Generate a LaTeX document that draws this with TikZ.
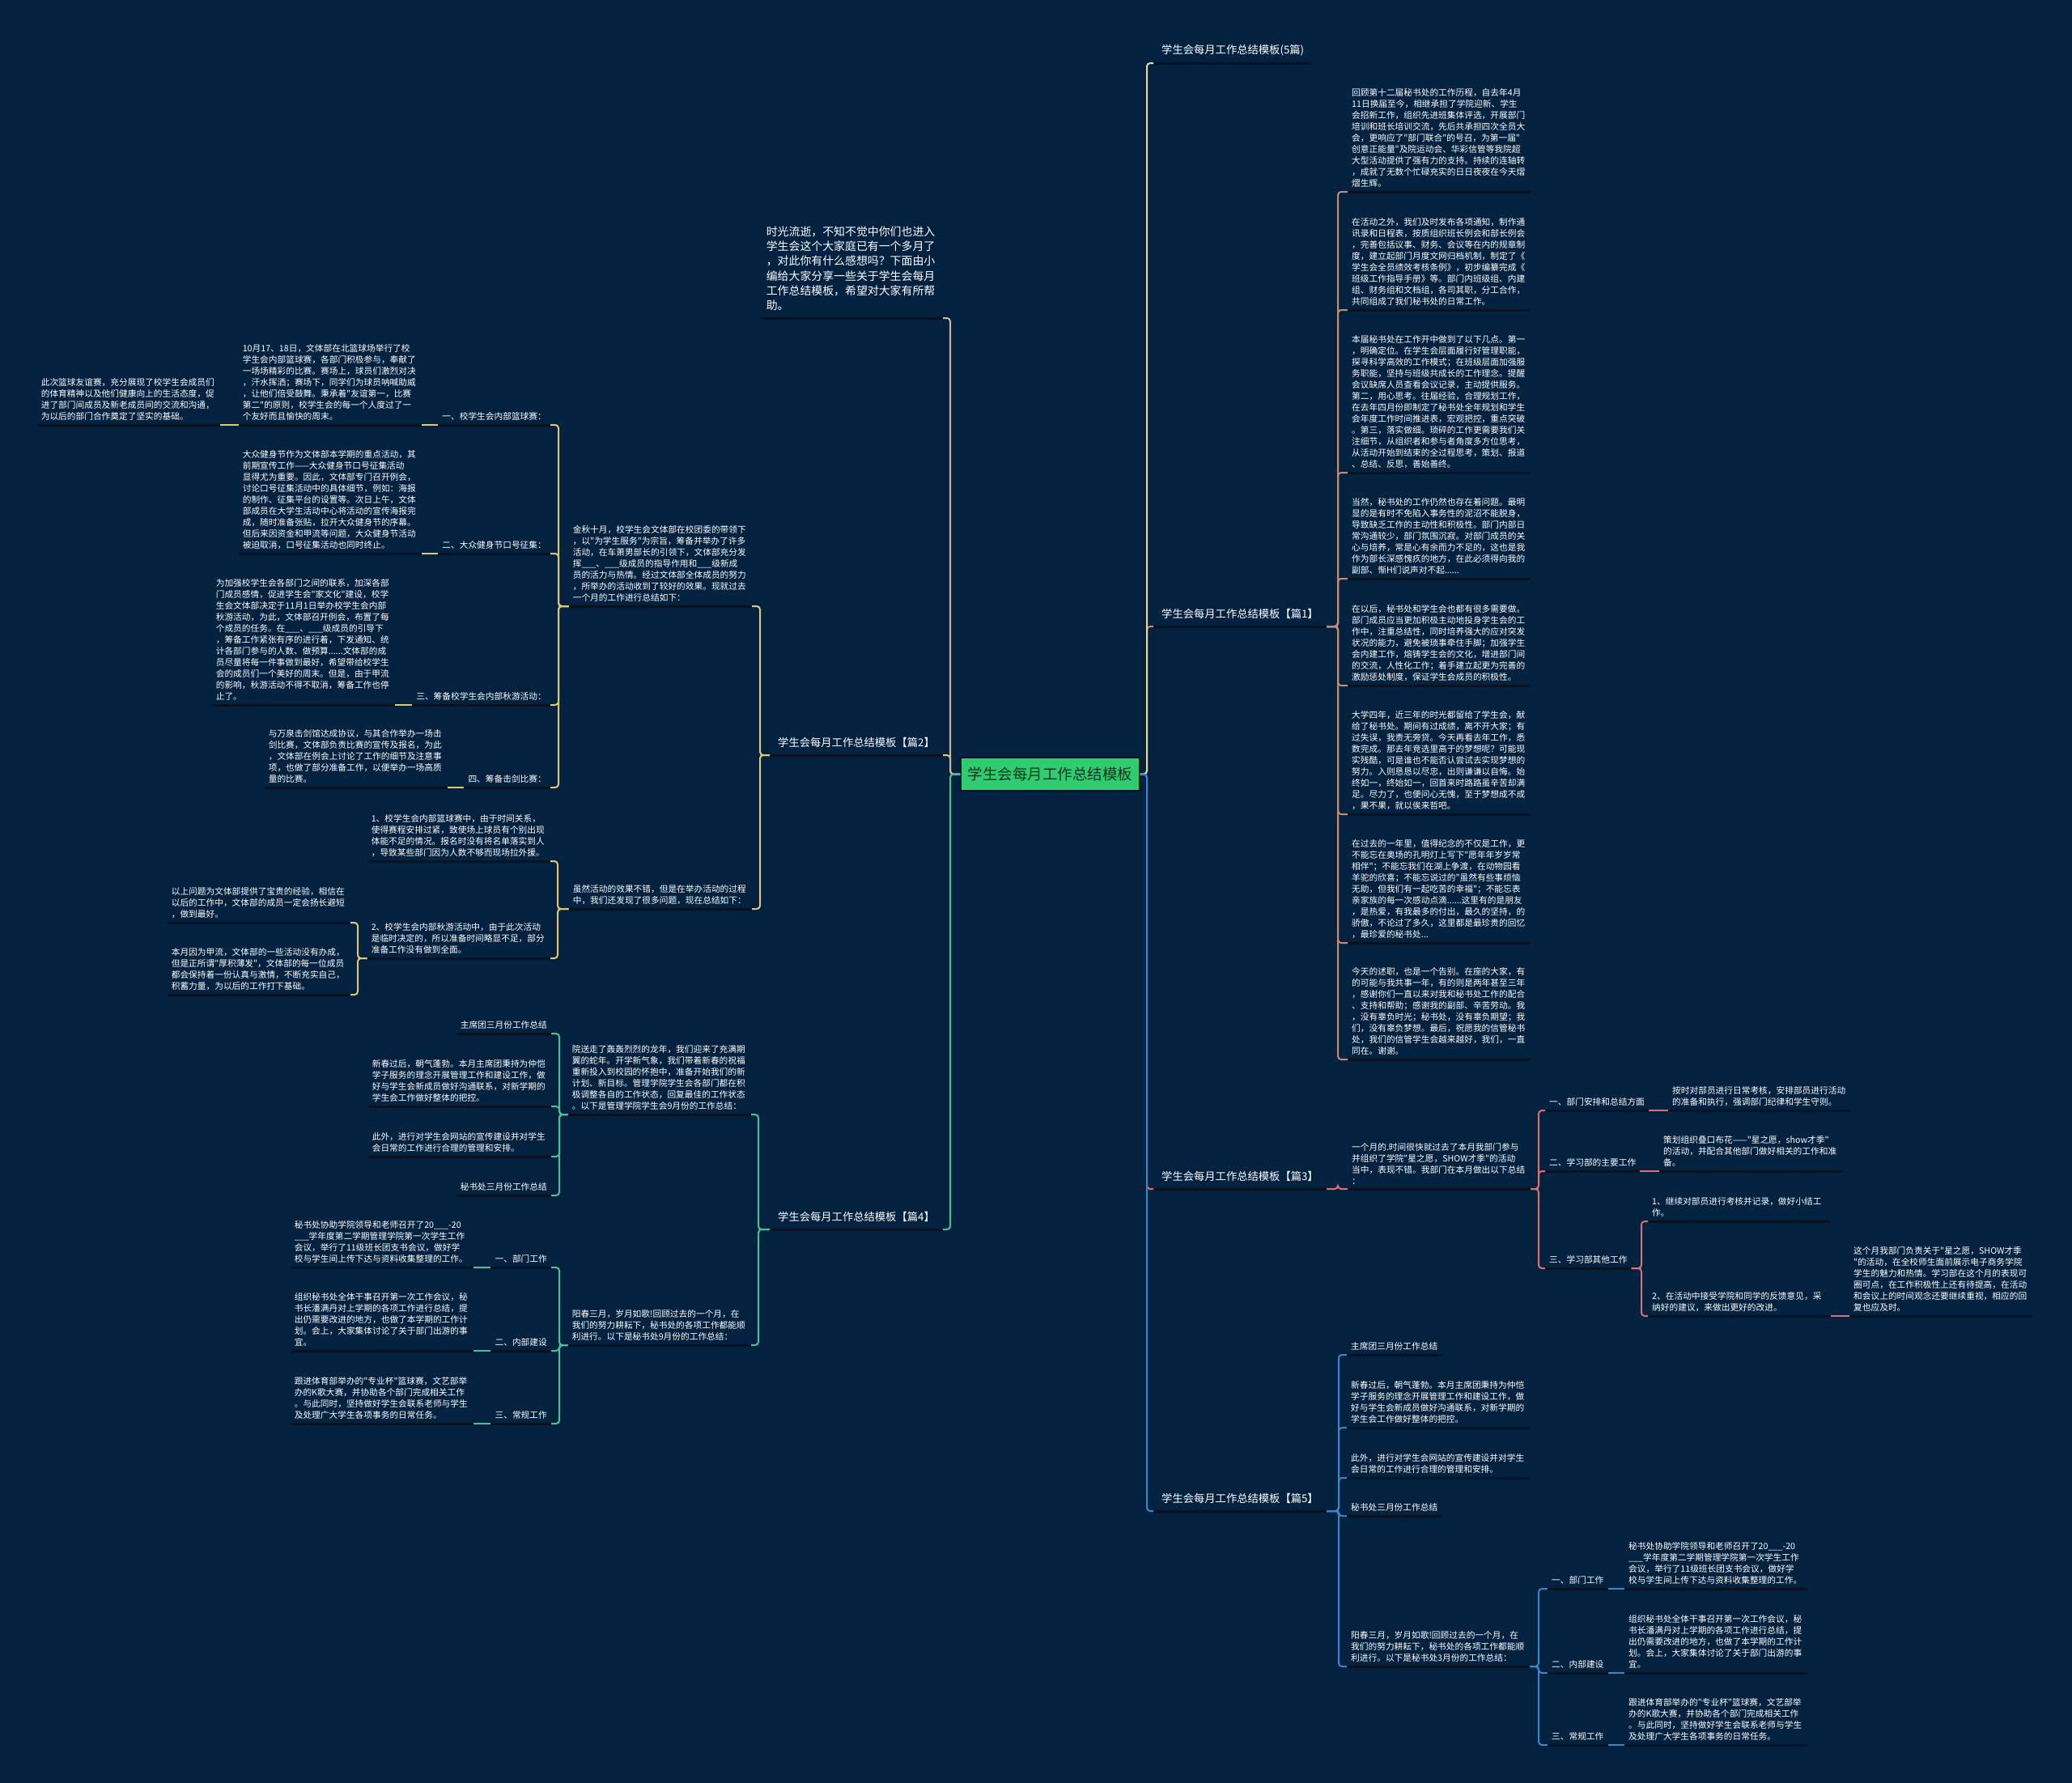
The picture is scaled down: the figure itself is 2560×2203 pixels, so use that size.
\documentclass[tikz,border=0pt]{standalone}
\usepackage{fontspec}
\setmainfont{Noto Sans CJK SC}[Ligatures=TeXOff]
\definecolor{bg}{RGB}{3,34,64}
\definecolor{uln}{RGB}{8,18,32}
\definecolor{rootfill}{RGB}{48,204,112}
\definecolor{roottext}{RGB}{18,48,32}
\definecolor{czero}{RGB}{228,218,150}
\definecolor{cone}{RGB}{196,140,112}
\definecolor{cthree}{RGB}{218,112,116}
\definecolor{cfive}{RGB}{62,132,204}
\definecolor{ctwo}{RGB}{222,200,120}
\definecolor{cintro}{RGB}{205,184,150}
\definecolor{cfour}{RGB}{78,190,150}
\newcommand\fntS{\fontsize{10.7}{14}\selectfont\exhyphenpenalty=10000 \hyphenpenalty=10000 }
\newcommand\fntM{\fontsize{13.3}{16}\selectfont}
\newcommand\fntI{\fontsize{13.9}{18.3}\selectfont}
\newcommand\fntR{\fontsize{18.5}{22}\selectfont}
\tikzset{
  base/.style={text=white, inner xsep=5pt, inner ysep=5.5pt, font=\fntS},
  para/.style={base, text width=216pt, align=left},
  lbl/.style={base},
  mainlbl/.style={text=white, inner xsep=10pt, inner ysep=9pt, font=\fntM},
  rootbox/.style={fill=rootfill, draw=uln, line width=1.2pt, text=roottext, font=\fntR,
    minimum width=221pt, minimum height=41pt, inner sep=0pt},
  uline/.style={draw=uln, line width=3pt},
  conn/.style={line width=2pt, rounded corners=4pt},
}
\begin{document}
\begin{tikzpicture}[x=1pt,y=-1pt]
\fill[bg] (0,0) rectangle (2560,2203);
\useasboundingbox (0,0) rectangle (2560,2203);

% root
\node[rootbox] (root) at (1297.5,956.5) {学生会每月工作总结模板};

% ---------- right main branches ----------
\node[mainlbl, anchor=south west] (r0) at (1425,78) {学生会每月工作总结模板(5篇)};
\node[mainlbl, anchor=south west] (r1) at (1425,774) {学生会每月工作总结模板【篇1】};
\node[mainlbl, anchor=south west] (r3) at (1425,1469) {学生会每月工作总结模板【篇3】};
\node[mainlbl, anchor=south west] (r5) at (1425,1867) {学生会每月工作总结模板【篇5】};

% ---------- left main branches ----------
\node[para, font=\fntI, text width=210pt, inner xsep=8pt, inner ysep=9pt, anchor=south east] (intro) at (1165,393) {时光流逝，不知不觉中你们也进入\\学生会这个大家庭已有一个多月了\\，对此你有什么感想吗？下面由小\\编给大家分享一些关于学生会每月\\工作总结模板，希望对大家有所帮\\助。};
\node[mainlbl, anchor=south east] (l2) at (1165,933) {学生会每月工作总结模板【篇2】};
\node[mainlbl, anchor=south east] (l4) at (1165,1519) {学生会每月工作总结模板【篇4】};

% ---------- 篇1 ----------
\node[para, anchor=south west] (p1) at (1665,237) {回顾第十二届秘书处的工作历程，自去年4月\\11日换届至今，相继承担了学院迎新、学生\\会招新工作，组织先进班集体评选，开展部门\\培训和班长培训交流，先后共承担四次全员大\\会，更响应了"部门联合"的号召，为第一届"\\创意正能量"及院运动会、华彩信管等我院超\\大型活动提供了强有力的支持。持续的连轴转\\，成就了无数个忙碌充实的日日夜夜在今天熠\\熠生辉。};
\node[para, anchor=south west] (p2) at (1665,383) {在活动之外，我们及时发布各项通知，制作通\\讯录和日程表，按质组织班长例会和部长例会\\，完善包括议事、财务、会议等在内的规章制\\度，建立起部门月度文网归档机制，制定了《\\学生会全员绩效考核条例》，初步编纂完成《\\班级工作指导手册》等。部门内班级组、内建\\组、财务组和文档组，各司其职，分工合作，\\共同组成了我们秘书处的日常工作。};
\node[para, anchor=south west] (p3) at (1665,584) {本届秘书处在工作开中做到了以下几点。第一\\，明确定位。在学生会层面履行好管理职能，\\探寻科学高效的工作模式；在班级层面加强服\\务职能，坚持与班级共成长的工作理念。提醒\\会议缺席人员查看会议记录，主动提供服务。\\第二，用心思考。往届经验，合理规划工作，\\在去年四月份即制定了秘书处全年规划和学生\\会年度工作时间推进表，宏观把控，重点突破\\。第三，落实做细。琐碎的工作更需要我们关\\注细节，从组织者和参与者角度多方位思考，\\从活动开始到结束的全过程思考，策划、报道\\、总结、反思，善始善终。};
\node[para, anchor=south west] (p4) at (1665,715) {当然，秘书处的工作仍然也存在着问题。最明\\显的是有时不免陷入事务性的泥沼不能脱身，\\导致缺乏工作的主动性和积极性。部门内部日\\常沟通较少，部门氛围沉寂。对部门成员的关\\心与培养，常是心有余而力不足的，这也是我\\作为部长深感愧疚的地方，在此必须得向我的\\副部、惭H们说声对不起......};
\node[para, anchor=south west] (p5) at (1665,847) {在以后，秘书处和学生会也都有很多需要做。\\部门成员应当更加积极主动地投身学生会的工\\作中，注重总结性，同时培养强大的应对突发\\状况的能力，避免被琐事牵住手脚；加强学生\\会内建工作，熔铸学生会的文化，增进部门间\\的交流，人性化工作；着手建立起更为完善的\\激励惩处制度，保证学生会成员的积极性。};
\node[para, anchor=south west] (p6) at (1665,1006) {大学四年，近三年的时光都留给了学生会，献\\给了秘书处。期间有过成绩，离不开大家；有\\过失误，我责无旁贷。今天再看去年工作，悉\\数完成。那去年竞选里高于的梦想呢？可能现\\实残酷，可是谁也不能否认尝试去实现梦想的\\努力。入则恳恳以尽忠，出则谦谦以自悔。始\\终如一，终始如一，回首来时路路虽辛苦却满\\足。尽力了，也便问心无愧，至于梦想成不成\\，果不果，就以俟来哲吧。};
\node[para, anchor=south west] (p7) at (1665,1165) {在过去的一年里，值得纪念的不仅是工作，更\\不能忘在奥场的孔明灯上写下"愿年年岁岁常\\相伴"；不能忘我们在湖上争渡，在动物园看\\羊驼的欣喜；不能忘说过的"虽然有些事烦恼\\无助，但我们有一起吃苦的幸福"；不能忘表\\亲家族的每一次感动点滴......这里有的是朋友\\，是热爱，有我最多的付出，最久的坚持，的\\骄傲，不论过了多久，这里都是最珍贵的回忆\\，最珍爱的秘书处...};
\node[para, anchor=south west] (p8) at (1665,1309) {今天的述职，也是一个告别。在座的大家，有\\的可能与我共事一年，有的则是两年甚至三年\\，感谢你们一直以来对我和秘书处工作的配合\\、支持和帮助；感谢我的副部、辛苦劳动。我\\，没有辜负时光；秘书处，没有辜负期望；我\\们，没有辜负梦想。最后，祝愿我的信管秘书\\处，我们的信管学生会越来越好，我们，一直\\同在。谢谢。};

% ---------- 篇3 ----------
\node[para, anchor=south west] (f) at (1665,1469) {一个月的.时间很快就过去了本月我部门参与\\并组织了学院"星之愿，SHOW才季"的活动\\当中，表现不错。我部门在本月做出以下总结\\：};
\node[lbl, anchor=south west] (f1) at (1909,1372) {一、部门安排和总结方面};
\node[lbl, anchor=south west] (f2) at (1909,1447) {二、学习部的主要工作};
\node[lbl, anchor=south west] (f3) at (1909,1567) {三、学习部其他工作};
\node[para, anchor=south west] (f1a) at (2061,1372) {按时对部员进行日常考核，安排部员进行活动\\的准备和执行，强调部门纪律和学生守则。};
\node[para, anchor=south west] (f2a) at (2050,1447) {策划组织叠口布花——"星之愿，show才季"\\的活动，并配合其他部门做好相关的工作和准\\备。};
\node[para, anchor=south west] (f3a) at (2036,1509) {1、继续对部员进行考核并记录，做好小结工\\作。};
\node[para, anchor=south west] (f3b) at (2036,1626) {2、在活动中接受学院和同学的反馈意见，采\\纳好的建议，来做出更好的改进。};
\node[para, anchor=south west] (f3c) at (2285,1626) {这个月我部门负责关于"星之愿，SHOW才季\\"的活动，在全校师生面前展示电子商务学院\\学生的魅力和热情。学习部在这个月的表现可\\圈可点，在工作积极性上还有待提高，在活动\\和会议上的时间观念还要继续重视，相应的回\\复也应及时。};

% ---------- 篇5 ----------
\node[lbl, anchor=south west] (e1) at (1664,1674) {主席团三月份工作总结};
\node[para, anchor=south west] (e2) at (1664,1764) {新春过后，朝气蓬勃。本月主席团秉持为仲恺\\学子服务的理念开展管理工作和建设工作，做\\好与学生会新成员做好沟通联系，对新学期的\\学生会工作做好整体的把控。};
\node[para, anchor=south west] (e3) at (1664,1826) {此外，进行对学生会网站的宣传建设并对学生\\会日常的工作进行合理的管理和安排。};
\node[lbl, anchor=south west] (e4) at (1664,1873) {秘书处三月份工作总结};
\node[para, anchor=south west] (e5) at (1664,2059) {阳春三月，岁月如歌!回顾过去的一个月，在\\我们的努力耕耘下，秘书处的各项工作都能顺\\利进行。以下是秘书处3月份的工作总结：};
\node[lbl, anchor=south west] (e5a) at (1912,1963) {一、部门工作};
\node[lbl, anchor=south west] (e5b) at (1912,2067) {二、内部建设};
\node[lbl, anchor=south west] (e5c) at (1912,2156) {三、常规工作};
\node[para, anchor=south west] (e5aa) at (2007,1963) {秘书处协助学院领导和老师召开了20\_\_\_-20\\\_\_\_学年度第二学期管理学院第一次学生工作\\会议，举行了11级班长团支书会议，做好学\\校与学生间上传下达与资料收集整理的工作。};
\node[para, anchor=south west] (e5ba) at (2007,2067) {组织秘书处全体干事召开第一次工作会议，秘\\书长潘满丹对上学期的各项工作进行总结，提\\出仍需要改进的地方，也做了本学期的工作计\\划。会上，大家集体讨论了关于部门出游的事\\宜。};
\node[para, anchor=south west] (e5ca) at (2007,2156) {跟进体育部举办的"专业杯"篮球赛，文艺部举\\办的K歌大赛，并协助各个部门完成相关工作\\。与此同时，坚持做好学生会联系老师与学生\\及处理广大学生各项事务的日常任务。};

% ---------- 篇2 ----------
\node[para, anchor=south east] (a) at (929,749) {金秋十月，校学生会文体部在校团委的带领下\\，以"为学生服务"为宗旨，筹备并举办了许多\\活动，在车萧男部长的引领下，文体部充分发\\挥\_\_\_、\_\_\_级成员的指导作用和\_\_\_级新成\\员的活力与热情。经过文体部全体成员的努力\\，所举办的活动收到了较好的效果。现就过去\\一个月的工作进行总结如下：};
\node[para, anchor=south east] (b) at (929,1123) {虽然活动的效果不错，但是在举办活动的过程\\中，我们还发现了很多问题，现在总结如下：};
\node[lbl, anchor=south east] (a1) at (680,525) {一、校学生会内部篮球赛：};
\node[lbl, anchor=south east] (a2) at (680,684) {二、大众健身节口号征集：};
\node[lbl, anchor=south east] (a3) at (680,871) {三、筹备校学生会内部秋游活动：};
\node[lbl, anchor=south east] (a4) at (680,973) {四、筹备击剑比赛：};
\node[para, anchor=south east] (a1p) at (521,525) {10月17、18日，文体部在北篮球场举行了校\\学生会内部篮球赛，各部门积极参与，奉献了\\一场场精彩的比赛。赛场上，球员们激烈对决\\，汗水挥洒；赛场下，同学们为球员呐喊助威\\，让他们倍受鼓舞。秉承着"友谊第一，比赛\\第二"的原则，校学生会的每一个人度过了一\\个友好而且愉快的周末。};
\node[para, anchor=south east] (a1q) at (272,525) {此次篮球友谊赛，充分展现了校学生会成员们\\的体育精神以及他们健康向上的生活态度，促\\进了部门间成员及新老成员间的交流和沟通，\\为以后的部门合作奠定了坚实的基础。};
\node[para, anchor=south east] (a2p) at (521,684) {大众健身节作为文体部本学期的重点活动，其\\前期宣传工作——大众健身节口号征集活动\\显得尤为重要。因此，文体部专门召开例会，\\讨论口号征集活动中的具体细节，例如：海报\\的制作、征集平台的设置等。次日上午，文体\\部成员在大学生活动中心将活动的宣传海报完\\成，随时准备张贴，拉开大众健身节的序幕。\\但后来因资金和甲流等问题，大众健身节活动\\被迫取消，口号征集活动也同时终止。};
\node[para, anchor=south east] (a3p) at (488,871) {为加强校学生会各部门之间的联系，加深各部\\门成员感情，促进学生会"家文化"建设，校学\\生会文体部决定于11月1日举办校学生会内部\\秋游活动，为此，文体部召开例会，布置了每\\个成员的任务。在\_\_\_、\_\_\_级成员的引导下\\，筹备工作紧张有序的进行着，下发通知、统\\计各部门参与的人数、做预算......文体部的成\\员尽量将每一件事做到最好，希望带给校学生\\会的成员们一个美好的周末。但是，由于甲流\\的影响，秋游活动不得不取消，筹备工作也停\\止了。};
\node[para, anchor=south east] (a4p) at (553,973) {与万泉击剑馆达成协议，与其合作举办一场击\\剑比赛，文体部负责比赛的宣传及报名，为此\\，文体部在例会上讨论了工作的细节及注意事\\项，也做了部分准备工作，以便举办一场高质\\量的比赛。};
\node[para, anchor=south east] (b1) at (680,1064) {1、校学生会内部篮球赛中，由于时间关系，\\使得赛程安排过紧，致使场上球员有个别出现\\体能不足的情况。报名时没有将名单落实到人\\，导致某些部门因为人数不够而现场拉外援。};
\node[para, anchor=south east] (b2) at (680,1184) {2、校学生会内部秋游活动中，由于此次活动\\是临时决定的，所以准备时间略显不足，部分\\准备工作没有做到全面。};
\node[para, anchor=south east] (b2a) at (433,1140) {以上问题为文体部提供了宝贵的经验，相信在\\以后的工作中，文体部的成员一定会扬长避短\\，做到最好。};
\node[para, anchor=south east] (b2b) at (433,1229) {本月因为甲流，文体部的一些活动没有办成，\\但是正所谓"厚积薄发"，文体部的每一位成员\\都会保持着一份认真与激情，不断充实自己，\\积蓄力量，为以后的工作打下基础。};

% ---------- 篇4 ----------
\node[para, anchor=south east] (c) at (928,1377) {院送走了轰轰烈烈的龙年，我们迎来了充满期\\翼的蛇年。开学新气象，我们带着新春的祝福\\重新投入到校园的怀抱中，准备开始我们的新\\计划、新目标。管理学院学生会各部门都在积\\极调整各自的工作状态，回复最佳的工作状态\\。以下是管理学院学生会9月份的工作总结：};
\node[para, anchor=south east] (d) at (928,1662) {阳春三月，岁月如歌!回顾过去的一个月，在\\我们的努力耕耘下，秘书处的各项工作都能顺\\利进行。以下是秘书处9月份的工作总结：};
\node[lbl, anchor=south east] (c1) at (681,1277) {主席团三月份工作总结};
\node[para, anchor=south east] (c2) at (681,1367) {新春过后，朝气蓬勃。本月主席团秉持为仲恺\\学子服务的理念开展管理工作和建设工作，做\\好与学生会新成员做好沟通联系，对新学期的\\学生会工作做好整体的把控。};
\node[para, anchor=south east] (c3) at (681,1429) {此外，进行对学生会网站的宣传建设并对学生\\会日常的工作进行合理的管理和安排。};
\node[lbl, anchor=south east] (c4) at (681,1477) {秘书处三月份工作总结};
\node[lbl, anchor=south east] (d1) at (681,1566) {一、部门工作};
\node[lbl, anchor=south east] (d2) at (681,1669) {二、内部建设};
\node[lbl, anchor=south east] (d3) at (681,1759) {三、常规工作};
\node[para, anchor=south east] (d1a) at (585,1566) {秘书处协助学院领导和老师召开了20\_\_\_-20\\\_\_\_学年度第二学期管理学院第一次学生工作\\会议，举行了11级班长团支书会议，做好学\\校与学生间上传下达与资料收集整理的工作。};
\node[para, anchor=south east] (d2a) at (585,1669) {组织秘书处全体干事召开第一次工作会议，秘\\书长潘满丹对上学期的各项工作进行总结，提\\出仍需要改进的地方，也做了本学期的工作计\\划。会上，大家集体讨论了关于部门出游的事\\宜。};
\node[para, anchor=south east] (d3a) at (585,1759) {跟进体育部举办的"专业杯"篮球赛，文艺部举\\办的K歌大赛，并协助各个部门完成相关工作\\。与此同时，坚持做好学生会联系老师与学生\\及处理广大学生各项事务的日常任务。};

% ---------- underlines ----------
\foreach \n in {r0,r1,r3,r5,intro,l2,l4,p1,p2,p3,p4,p5,p6,p7,p8,f,f1,f2,f3,f1a,f2a,f3a,f3b,f3c,e1,e2,e3,e4,e5,e5a,e5b,e5c,e5aa,e5ba,e5ca,a,b,a1,a2,a3,a4,a1p,a1q,a2p,a3p,a4p,b1,b2,b2a,b2b,c,d,c1,c2,c3,c4,d1,d2,d3,d1a,d2a,d3a}
  \draw[uline] (\n.south west) -- (\n.south east);

% ---------- connectors: root to main branches ----------
\draw[conn, cone] (r1.south west) -- ++(-8,0) |- (root.east);
\draw[conn, czero] (r0.south west) -- ++(-8,0) |- (root.east);
\draw[conn, cthree] (r3.south west) -- ++(-8,0) |- (root.east);
\draw[conn, cfive] (r5.south west) -- ++(-8,0) |- (root.east);
\draw[conn, ctwo] (l2.south east) -- ++(9,0) |- (root.west);
\draw[conn, cintro] (intro.south east) -- ++(9,0) |- (root.west);
\draw[conn, cfour] (l4.south east) -- ++(9,0) |- (root.west);

% 篇1
\foreach \n in {p1,p2,p3,p4,p5,p6,p7,p8}
  \draw[conn, cone] (\n.south west) -- ++(-12,0) |- (r1.south east);
% 篇3
\draw[conn, cthree] (f.south west) -- ++(-12,0) |- (r3.south east);
\foreach \n in {f1,f2,f3}
  \draw[conn, cthree] (\n.south west) -- ++(-8,0) |- (f.south east);
\draw[conn, cthree] (f1a.south west) -- (f1.south east);
\draw[conn, cthree] (f2a.south west) -- (f2.south east);
\foreach \n in {f3a,f3b}
  \draw[conn, cthree] (\n.south west) -- ++(-8,0) |- (f3.south east);
\draw[conn, cthree] (f3c.south west) -- (f3b.south east);
% 篇5
\foreach \n in {e1,e2,e3,e4,e5}
  \draw[conn, cfive] (\n.south west) -- ++(-10,0) |- (r5.south east);
\foreach \n in {e5a,e5b,e5c}
  \draw[conn, cfive] (\n.south west) -- ++(-11,0) |- (e5.south east);
\draw[conn, cfive] (e5aa.south west) -- (e5a.south east);
\draw[conn, cfive] (e5ba.south west) -- (e5b.south east);
\draw[conn, cfive] (e5ca.south west) -- (e5c.south east);
% 篇2
\foreach \n in {a,b}
  \draw[conn, ctwo] (\n.south east) -- ++(10,0) |- (l2.south west);
\foreach \n in {a1,a2,a3,a4}
  \draw[conn, ctwo] (\n.south east) -- ++(10,0) |- (a.south west);
\draw[conn, ctwo] (a1p.south east) -- (a1.south west);
\draw[conn, ctwo] (a1q.south east) -- (a1p.south west);
\draw[conn, ctwo] (a2p.south east) -- (a2.south west);
\draw[conn, ctwo] (a3p.south east) -- (a3.south west);
\draw[conn, ctwo] (a4p.south east) -- (a4.south west);
\foreach \n in {b1,b2}
  \draw[conn, ctwo] (\n.south east) -- ++(9,0) |- (b.south west);
\foreach \n in {b2a,b2b}
  \draw[conn, ctwo] (\n.south east) -- ++(9,0) |- (b2.south west);
% 篇4
\foreach \n in {c,d}
  \draw[conn, cfour] (\n.south east) -- ++(9,0) |- (l4.south west);
\foreach \n in {c1,c2,c3,c4}
  \draw[conn, cfour] (\n.south east) -- ++(10,0) |- (c.south west);
\foreach \n in {d1,d2,d3}
  \draw[conn, cfour] (\n.south east) -- ++(10,0) |- (d.south west);
\draw[conn, cfour] (d1a.south east) -- (d1.south west);
\draw[conn, cfour] (d2a.south east) -- (d2.south west);
\draw[conn, cfour] (d3a.south east) -- (d3.south west);
\end{tikzpicture}
\end{document}
